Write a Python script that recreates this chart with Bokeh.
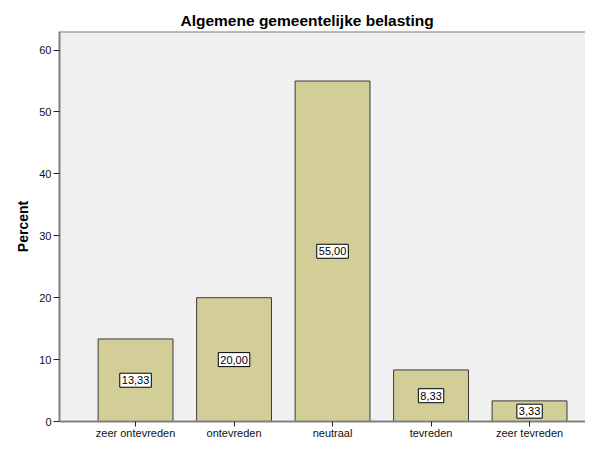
from bokeh.plotting import figure
from bokeh.models import ColumnDataSource, FixedTicker, Range1d, Span
from bokeh.core.properties import value
from bokeh.embed import file_html
from bokeh.resources import INLINE

categories = ["zeer ontevreden", "ontevreden", "neutraal", "tevreden", "zeer tevreden"]
percent = [13.33, 20.00, 55.00, 8.33, 3.33]
y_ticks = [0, 10, 20, 30, 40, 50, 60]

xs = list(range(len(categories)))
src = ColumnDataSource(dict(
    x=xs,
    top=percent,
    mid=[v / 2 for v in percent],
    lbl=[f"{v:.2f}".replace(".", ",") for v in percent],
))

FONT = "Liberation Sans"

p = figure(width=585, height=441, output_backend="svg", toolbar_location=None,
           x_range=Range1d(-0.772, 4.568), y_range=Range1d(0, 63),
           min_border_left=59, min_border_right=0, min_border_top=31, min_border_bottom=0,
           title="Algemene gemeentelijke belasting")

p.background_fill_color = "#F0F0F0"
p.border_fill_color = "white"
p.outline_line_color = None
p.grid.visible = False
p.add_layout(Span(location=63, dimension="width", line_color="#808080", line_width=2))

p.title.text_font = FONT
p.title.text_font_size = "15.5px"
p.title.text_font_style = "bold"
p.title.text_color = "black"
p.title.align = "left"
p.title.offset = 121
p.title.standoff = 6

p.vbar(x="x", top="top", width=0.76, source=src, fill_color="#D3CE97",
       line_color="#3a3a3a", line_width=1)

p.text(x="x", y="mid", text="lbl", source=src, text_align="center",
       text_baseline="middle", text_font=value(FONT), text_font_size="11px",
       text_color="black", background_fill_color="white",
       border_line_color="black", border_line_width=1,
       padding=dict(left=2, right=2, top=3, bottom=3))

# axes
p.xaxis.ticker = FixedTicker(ticks=xs)
p.xaxis.major_label_overrides = {i: c for i, c in enumerate(categories)}
p.yaxis.ticker = FixedTicker(ticks=y_ticks)
for ax in (p.xaxis, p.yaxis):
    ax.axis_line_color = "#808080"
    ax.axis_line_width = 2
    ax.major_tick_line_color = "#222222"
    ax.major_tick_line_width = 1
    ax.major_tick_in = 0
    ax.major_tick_out = 6
    ax.minor_tick_line_color = None
    ax.major_label_text_font = FONT
    ax.major_label_text_font_size = "11px"
    ax.major_label_text_color = "#111111"
    ax.major_label_standoff = 2

p.xaxis.major_tick_out = 5
p.xaxis.major_label_standoff = 0
p.yaxis.axis_label = "Percent"
p.yaxis.axis_label_text_font = FONT
p.yaxis.axis_label_text_font_size = "14px"
p.yaxis.axis_label_text_font_style = "bold"
p.yaxis.axis_label_text_color = "black"
p.yaxis.axis_label_standoff = 5

open("out.html", "w").write(file_html(p, INLINE))
